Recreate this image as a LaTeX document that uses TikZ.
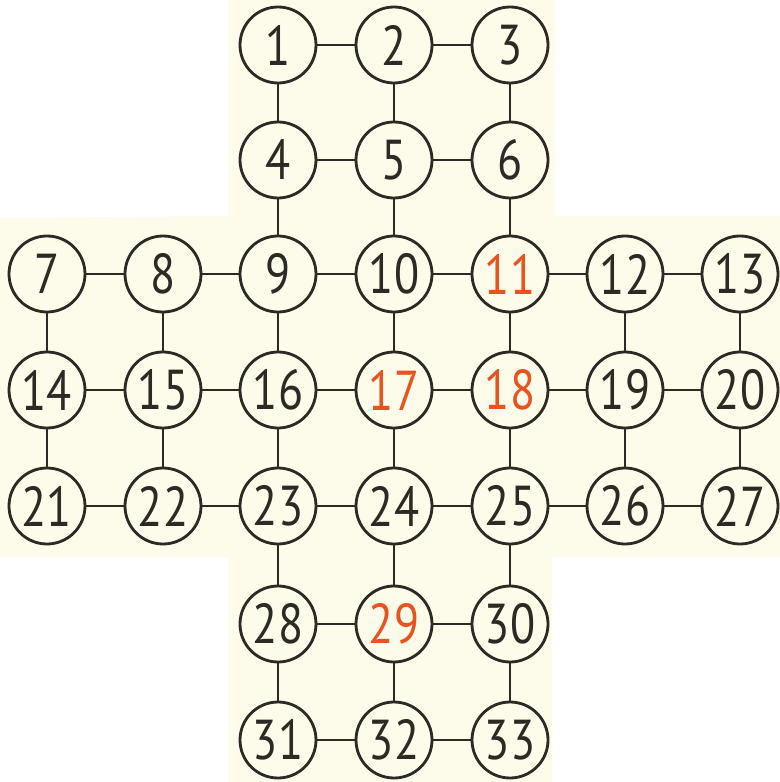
\documentclass[tikz,border=0pt]{standalone}
\usepackage{fontspec}
\setmainfont[FakeStretch=0.82]{PT Sans}
\definecolor{cream}{RGB}{253,251,233}
\definecolor{ink}{RGB}{45,42,38}
\definecolor{peg}{RGB}{232,84,32}
\tikzset{hole/.style={circle, draw=ink, line width=0.8pt, fill=cream, minimum size=7.6mm, inner sep=0pt, text=ink, font=\fontsize{16}{19}\selectfont},
 red/.style={hole, text=peg}}
\begin{document}
\begin{tikzpicture}[x=0.1mm,y=-0.1mm]
 \useasboundingbox (0,0) rectangle (780,782);
 \fill[cream] (228,0) -- (555,0) -- (555,216) -- (780,216) -- (780,557) -- (552,557) -- (552,782) -- (228,782) -- (228,557) -- (0,557) -- (0,218) -- (228,216) -- cycle;
 % top arm
 \node[hole] (n1) at (278,45) {1};
 \node[hole] (n2) at (394,45) {2};
 \node[hole] (n3) at (510,45) {3};
 \node[hole] (n4) at (278,160) {4};
 \node[hole] (n5) at (394,160) {5};
 \node[hole] (n6) at (510,160) {6};
 % middle band
 \node[hole] (n7) at (47,274) {7};
 \node[hole] (n8) at (163,274) {8};
 \node[hole] (n9) at (278,274) {9};
 \node[hole] (n10) at (394,274) {10};
 \node[red] (n11) at (510,274) {11};
 \node[hole] (n12) at (625,274) {12};
 \node[hole] (n13) at (740,274) {13};
 \node[hole] (n14) at (47,390) {14};
 \node[hole] (n15) at (163,390) {15};
 \node[hole] (n16) at (278,390) {16};
 \node[red] (n17) at (394,390) {17};
 \node[red] (n18) at (510,390) {18};
 \node[hole] (n19) at (625,390) {19};
 \node[hole] (n20) at (740,390) {20};
 \node[hole] (n21) at (47,506) {21};
 \node[hole] (n22) at (163,506) {22};
 \node[hole] (n23) at (278,506) {23};
 \node[hole] (n24) at (394,506) {24};
 \node[hole] (n25) at (510,506) {25};
 \node[hole] (n26) at (625,506) {26};
 \node[hole] (n27) at (740,506) {27};
 % bottom arm
 \node[hole] (n28) at (278,624) {28};
 \node[red] (n29) at (394,624) {29};
 \node[hole] (n30) at (510,624) {30};
 \node[hole] (n31) at (278,740) {31};
 \node[hole] (n32) at (394,740) {32};
 \node[hole] (n33) at (510,740) {33};
 \begin{scope}[draw=ink, line width=0.8pt]
 \draw (n1) -- (n2) -- (n3);
 \draw (n4) -- (n5) -- (n6);
 \draw (n7) -- (n8) -- (n9) -- (n10) -- (n11) -- (n12) -- (n13);
 \draw (n14) -- (n15) -- (n16) -- (n17) -- (n18) -- (n19) -- (n20);
 \draw (n21) -- (n22) -- (n23) -- (n24) -- (n25) -- (n26) -- (n27);
 \draw (n28) -- (n29) -- (n30);
 \draw (n31) -- (n32) -- (n33);
 \draw (n1) -- (n4) -- (n9) -- (n16) -- (n23) -- (n28) -- (n31);
 \draw (n2) -- (n5) -- (n10) -- (n17) -- (n24) -- (n29) -- (n32);
 \draw (n3) -- (n6) -- (n11) -- (n18) -- (n25) -- (n30) -- (n33);
 \draw (n7) -- (n14) -- (n21);
 \draw (n8) -- (n15) -- (n22);
 \draw (n12) -- (n19) -- (n26);
 \draw (n13) -- (n20) -- (n27);
 \end{scope}
\end{tikzpicture}
\end{document}
